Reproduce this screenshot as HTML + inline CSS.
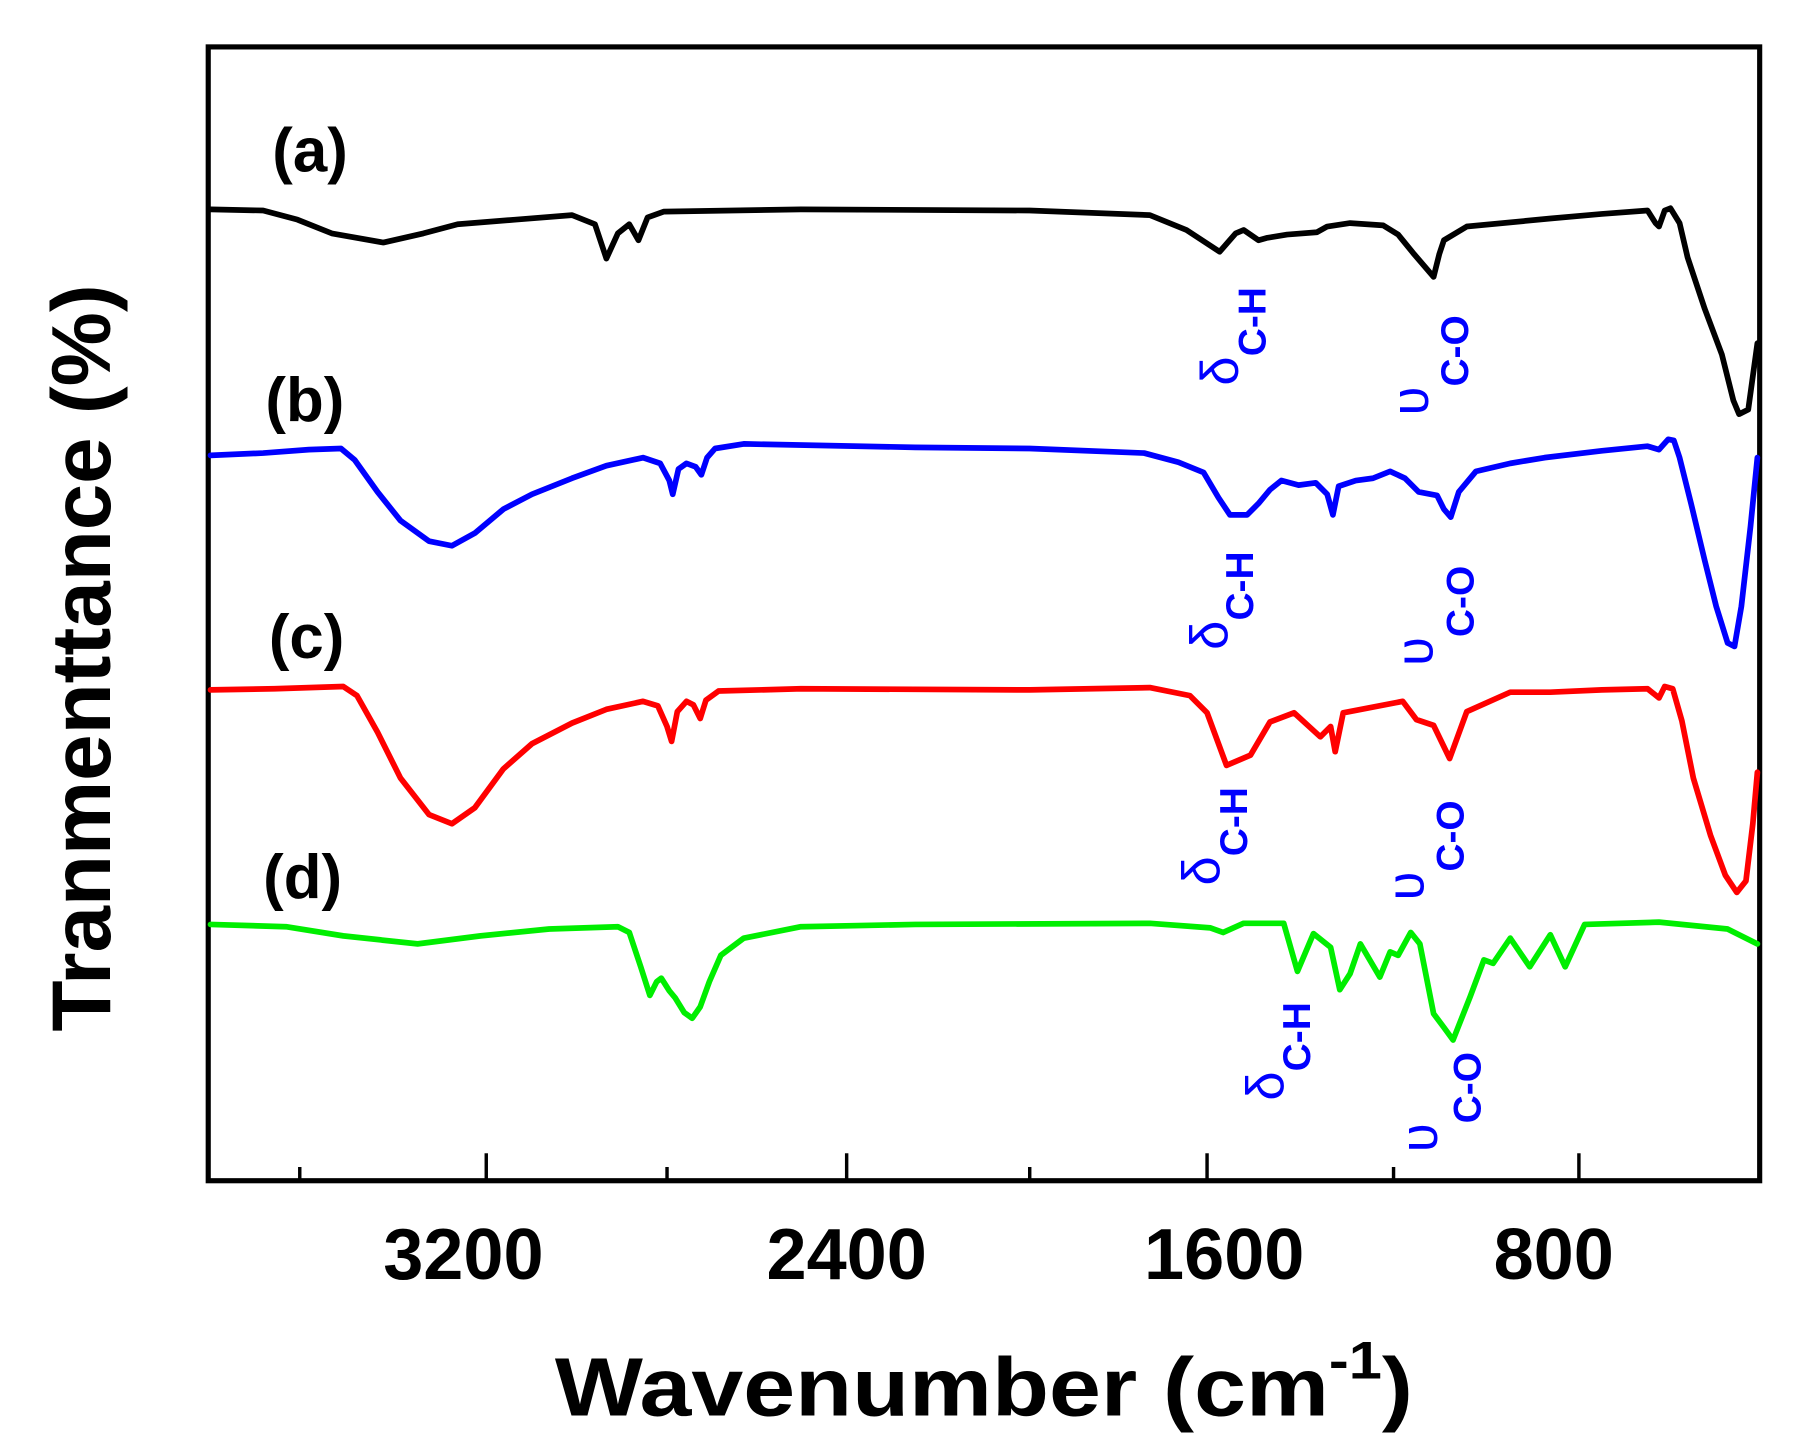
<!DOCTYPE html>
<html><head><meta charset="utf-8"><style>
html,body{margin:0;padding:0;background:#fff;}
svg{display:block;}
text{font-family:"Liberation Sans",Arial,sans-serif;}
</style></head><body>
<svg width="1794" height="1456" viewBox="0 0 1568 1272.6" preserveAspectRatio="none" xmlns="http://www.w3.org/2000/svg">
<rect x="0" y="0" width="1568" height="1273" fill="#fff"/>
<rect x="182" y="41" width="1356" height="991" fill="none" stroke="#000" stroke-width="4.5"/>
<g stroke="#000" stroke-width="3">
<line x1="262" y1="1032" x2="262" y2="1020"/>
<line x1="425" y1="1032" x2="425" y2="1008"/>
<line x1="583" y1="1032" x2="583" y2="1020"/>
<line x1="740" y1="1032" x2="740" y2="1008"/>
<line x1="900" y1="1032" x2="900" y2="1020"/>
<line x1="1055" y1="1032" x2="1055" y2="1008"/>
<line x1="1218" y1="1032" x2="1218" y2="1020"/>
<line x1="1380" y1="1032" x2="1380" y2="1008"/>
</g>
<g font-weight="bold" font-size="63" text-anchor="middle" fill="#000">
<text x="405" y="1118">3200</text>
<text x="740" y="1118">2400</text>
<text x="1070" y="1118">1600</text>
<text x="1358" y="1118">800</text>
</g>
<text x="485" y="1237" font-weight="bold" font-size="72" textLength="750" lengthAdjust="spacingAndGlyphs">Wavenumber (cm<tspan font-size="46" dy="-32">-1</tspan><tspan dy="32">)</tspan></text>
<text transform="translate(96,575) rotate(-90)" font-weight="bold" font-size="73" text-anchor="middle">Tranmenttance (%)</text>
<g font-weight="bold" font-size="54" fill="#000">
<text x="238" y="150">(a)</text>
<text x="232" y="368">(b)</text>
<text x="235" y="575">(c)</text>
<text x="230" y="785">(d)</text>
</g>
<g fill="none" stroke-width="5" stroke-linejoin="round" stroke-linecap="round">
<polyline stroke="#000" points="184,183 230,184 260,192 290,204 335,212 370,204 400,196 450,192 500,188 520,196 530,226 540,204 550,196 558,210 566,190 580,185 700,183 900,184 1005,188 1037,201 1066,220 1080,204 1087,201 1100,210 1107,208 1125,205 1151,203 1160,198 1180,195 1209,197 1222,205 1235,221 1253,242 1258,222 1262,210 1282,198 1355,191 1400,187 1440,184 1447,195 1450,198 1455,184 1460,182 1468,195 1475,225 1490,270 1505,310 1515,350 1520,362 1528,358 1536,300"/>
<polyline stroke="#00f" points="184,398 230,396 270,393 298,392 310,402 330,430 350,455 375,473 395,477 415,466 440,445 465,432 500,418 530,407 562,400 577,405 585,420 588,432 593,410 600,405 608,408 613,415 618,400 625,392 650,388 800,391 900,392 1000,396 1030,404 1052,413 1065,435 1075,450 1090,450 1100,440 1110,428 1120,420 1135,424 1150,422 1160,432 1165,450 1170,425 1185,420 1200,418 1215,412 1228,418 1240,430 1256,433 1262,445 1268,452 1275,430 1290,412 1320,405 1350,400 1400,394 1440,390 1450,393 1458,384 1463,385 1468,400 1478,440 1490,490 1500,530 1510,562 1516,565 1522,530 1530,460 1536,400"/>
<polyline stroke="#f00" points="184,603 240,602 300,600 312,608 330,640 350,680 375,712 395,720 415,706 440,672 465,650 500,632 530,620 562,613 575,617 583,635 587,648 592,622 600,613 606,616 612,628 617,612 628,604 700,602 900,603 1005,601 1040,608 1055,623 1072,669 1093,660 1110,631 1131,623 1154,644 1163,635 1167,657 1174,623 1226,613 1238,629 1253,634 1267,663 1282,622 1320,605 1355,605 1400,603 1440,602 1450,610 1455,600 1462,602 1470,630 1480,680 1495,730 1508,765 1518,780 1526,770 1532,720 1536,675"/>
<polyline stroke="#0e0" points="184,808 250,810 300,818 365,825 420,818 480,812 540,810 550,815 560,845 568,870 574,858 578,855 585,866 590,872 598,885 605,890 612,880 620,858 630,835 650,820 700,810 800,808 1005,807 1058,811 1069,815 1087,807 1122,807 1134,849 1148,816 1163,828 1171,865 1180,851 1189,825 1206,854 1215,832 1222,835 1233,815 1241,825 1253,886 1262,898 1270,909 1285,871 1297,839 1305,842 1320,820 1337,845 1355,817 1368,845 1385,808 1450,806 1510,812 1536,825"/>
</g>
<g fill="#00f" font-size="46">
<text transform="translate(1082,337) rotate(-90)">δ<tspan font-size="34" font-weight="bold" dy="24">C-H</tspan></text>
<text transform="translate(1248,363) rotate(-90)">υ<tspan font-size="34" font-weight="bold" dy="35">C-O</tspan></text>
<text transform="translate(1073,568) rotate(-90)">δ<tspan font-size="34" font-weight="bold" dy="22">C-H</tspan></text>
<text transform="translate(1252,582) rotate(-90)">υ<tspan font-size="34" font-weight="bold" dy="36">C-O</tspan></text>
<text transform="translate(1066,774) rotate(-90)">δ<tspan font-size="34" font-weight="bold" dy="24">C-H</tspan></text>
<text transform="translate(1244,787) rotate(-90)">υ<tspan font-size="34" font-weight="bold" dy="35">C-O</tspan></text>
<text transform="translate(1122,962) rotate(-90)">δ<tspan font-size="34" font-weight="bold" dy="23">C-H</tspan></text>
<text transform="translate(1256,1007) rotate(-90)">υ<tspan font-size="34" font-weight="bold" dy="38">C-O</tspan></text>
</g>
</svg>
</body></html>
